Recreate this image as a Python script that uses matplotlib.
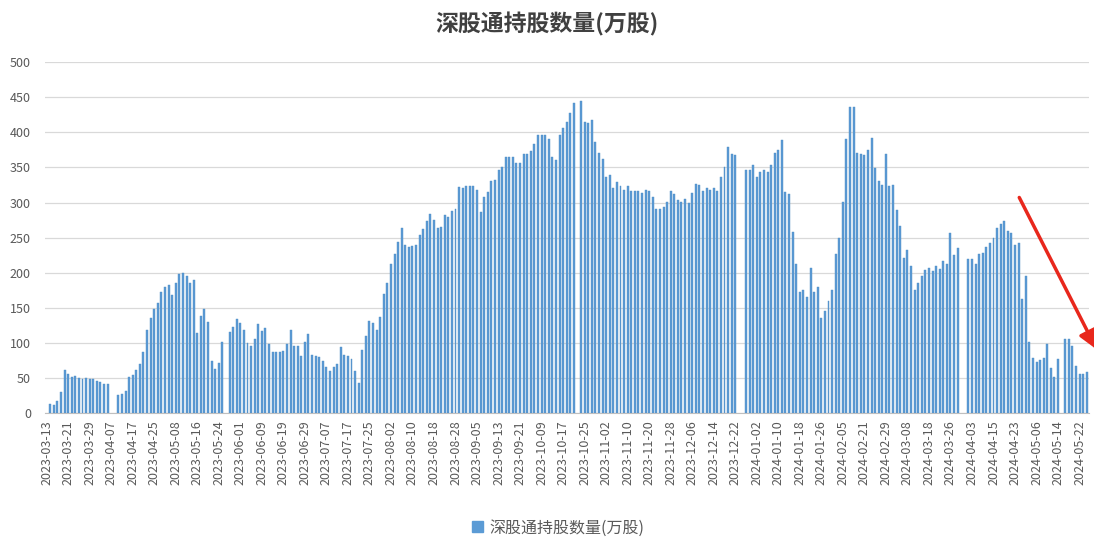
import numpy as np
import matplotlib
matplotlib.use("Agg")
import matplotlib.pyplot as plt
from matplotlib.patches import Patch

plt.rcParams['font.family'] = ['Noto Sans CJK SC', 'DejaVu Sans']

#Holdings per trading day, in 万股 (None = no northbound trading that day)
#2023-03-13 .. 2024-05-24, one value per mainland trading day
holdings = [
    None, 13, 12, 17, 30, 61, 56, 51, 53, 50, 48, 50, 49, 48, 46, 44, 42, 41, None, None,
    26, 27, 32, 51, 54, 61, 70, 87, 118, 136, 148, 157, 172, 180, 182, 168, 186, 198, 199, 196,
    186, 190, 114, 139, 148, 130, 74, 63, 71, 101, None, 115, 123, 134, 129, 118, 100, 96, 106, 127,
    117, 121, 99, 87, 87, 87, 89, 98, 118, 96, 96, 82, 101, 112, 83, 81, 80, 74, 66, 60,
    66, 70, 94, 83, 82, 77, 60, 43, 90, 110, 131, 129, 119, 137, 170, 186, 212, 227, 244, 263,
    240, 237, 238, 239, 253, 262, 274, 284, 275, 263, 265, 282, 279, 288, 291, 322, 320, 323, 324, 323,
    318, 286, 308, 315, 330, 332, 347, 350, 365, 365, 365, 356, 356, 369, 369, 374, 383, 396, 396, 396,
    391, 365, 361, 396, 406, 415, 427, 442, None, 444, 415, 413, 418, 386, 371, 362, 336, 339, 320, 329,
    323, 318, 324, 317, 317, 317, 313, 318, 317, 308, 291, 291, 293, 301, 317, 312, 303, 301, 305, 299,
    313, 326, 325, 317, 321, 318, 320, 316, 337, 350, 379, 369, 368, None, None, 346, 346, 354, 337, 343,
    347, 344, 354, 371, 375, 389, 315, 312, 258, 213, 173, 176, 165, 207, 172, 180, 136, 145, 159, 176,
    227, 249, 301, 391, 436, 436, 370, 369, 368, 375, 392, 349, 331, 325, 369, 323, 325, 289, 266, 221,
    232, 210, 176, 186, 195, 204, 206, 202, 209, 205, 216, 212, 256, 225, 235, None, None, 220, 220, 212,
    227, 228, 236, 243, 249, 263, 270, 274, 259, 256, 240, 243, 163, 195, 101, 79, 73, 76, 79, 99,
    64, 51, 77, None, 106, 105, 96, 67, 56, 56, 58,
]

#Axis labels, shown on every 6th trading day
tick_labels = [
    "2023-03-13", "2023-03-21", "2023-03-29", "2023-04-07", "2023-04-17", "2023-04-25",
    "2023-05-08", "2023-05-16", "2023-05-24", "2023-06-01", "2023-06-09", "2023-06-19",
    "2023-06-29", "2023-07-07", "2023-07-17", "2023-07-25", "2023-08-02", "2023-08-10",
    "2023-08-18", "2023-08-28", "2023-09-05", "2023-09-13", "2023-09-21", "2023-10-09",
    "2023-10-17", "2023-10-25", "2023-11-02", "2023-11-10", "2023-11-20", "2023-11-28",
    "2023-12-06", "2023-12-14", "2023-12-22", "2024-01-02", "2024-01-10", "2024-01-18",
    "2024-01-26", "2024-02-05", "2024-02-21", "2024-02-29", "2024-03-08", "2024-03-18",
    "2024-03-26", "2024-04-03", "2024-04-15", "2024-04-23", "2024-05-06", "2024-05-14",
    "2024-05-22",
]

title = "深股通持股数量(万股)"
barColor = "#5b9bd5"
textColor = "#595959"

fig = plt.figure(figsize=(10.94, 5.40), dpi=100)
ax = fig.add_axes([0.041, 0.235, 0.954, 0.650])

#Bars, skip the days without data
xs = [i for i, v in enumerate(holdings) if v is not None]
ys = [v for v in holdings if v is not None]
ax.bar(xs, ys, width=0.55, color=barColor, edgecolor="#4f8cc4", linewidth=0.3, zorder=3)

ax.set_xlim(-0.5, len(holdings) - 0.5)
ax.set_ylim(0, 500)
ax.set_yticks(np.arange(0, 501, 50))
ax.set_xticks(np.arange(0, len(holdings), 6)[:len(tick_labels)])
ax.set_xticklabels(tick_labels, rotation=90, fontsize=9, color=textColor)
ax.tick_params(axis='y', labelsize=9, colors=textColor, length=0, pad=10)
ax.tick_params(axis='x', length=0, pad=5)

ax.grid(axis='y', color="#d9d9d9", linewidth=0.9, zorder=0)
for side in ["top", "right", "left"]:
    ax.spines[side].set_visible(False)
ax.spines["bottom"].set_color("#bfbfbf")

fig.text(0.5, 0.955, title, ha='center', va='center', fontsize=16.5,
         fontweight='bold', color="#404040")

handle = Patch(color=barColor, label=title)
fig.legend(handles=[handle], loc='lower center', bbox_to_anchor=(0.51, -0.02),
           frameon=False, fontsize=11.5, handlelength=0.7, handleheight=0.7,
           handletextpad=0.4, labelcolor=textColor)

#Red arrow pointing at the recent drop
ax.annotate('', xy=(1098, 540 - 352), xytext=(1018, 540 - 195),
            xycoords='figure pixels', textcoords='figure pixels',
            arrowprops=dict(arrowstyle='-|>', color='#e8271c', lw=2.5,
                            mutation_scale=28))

fig.savefig("out.png", dpi=100)
